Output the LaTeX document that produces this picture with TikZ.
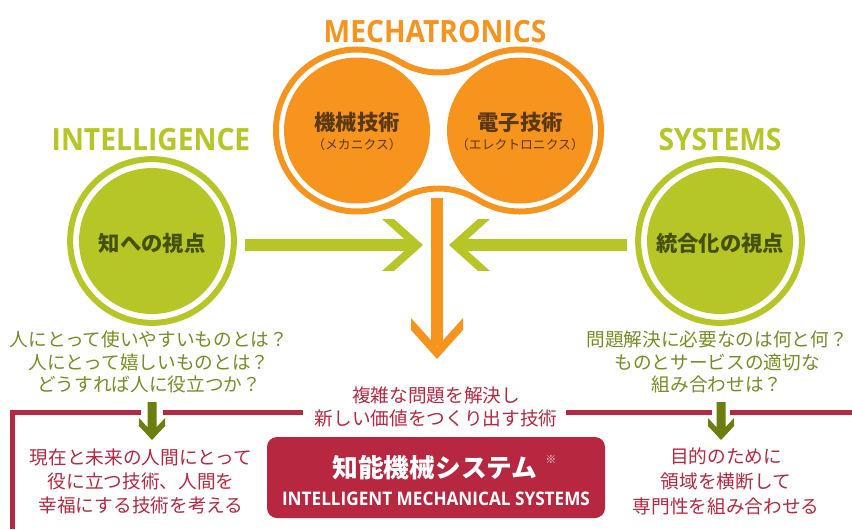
\documentclass[tikz,border=0pt]{standalone}
\usepackage{fontspec}
\usepackage{graphicx}
\setmainfont{Open Sans}
\newfontfamily\jp{Noto Sans CJK JP}
\definecolor{orangeM}{HTML}{F7941E}
\definecolor{greenM}{HTML}{B6C626}
\definecolor{greenT}{HTML}{7A8B22}
\definecolor{greenD}{HTML}{6C7E12}
\definecolor{greenC}{HTML}{45510A}
\definecolor{brownC}{HTML}{5A3810}
\definecolor{redM}{HTML}{B7273F}
\begin{document}
\begin{tikzpicture}[x=0.75pt,y=-0.75pt,
  heading/.style={font=\bfseries\fontsize{23pt}{25pt}\selectfont, inner sep=0pt, anchor=base},
  jtext/.style={font=\jp\fontsize{14pt}{17pt}\selectfont, align=center, inner sep=0pt},
  clabel/.style={font=\jp\bfseries\fontsize{16pt}{18pt}\selectfont, inner sep=0pt},
  csub/.style={font=\jp\fontsize{9.6pt}{11pt}\selectfont, inner sep=0pt, text=brownC},
  gcirc/.style={circle, fill=greenM, minimum size=109.5pt, inner sep=0pt},
  ocirc/.style={circle, fill=orangeM, minimum size=109.5pt, inner sep=0pt},
  ring/.style={line width=4.5pt},
  redline/.style={draw=redM, line width=3.75pt}
]
\useasboundingbox (0,0) rectangle (852,529);

% ---------- MECHATRONICS peanut ----------
\node[heading, text=orangeM] (mechT) at (435,42) {\scalebox{0.92}[1]{MECHATRONICS}};
\draw[orangeM, ring] (399.32,61.44)
  arc[start angle=58.5, end angle=301.5, radius=60.75pt]
  arc[start angle=121.5, end angle=58.5, radius=56.25pt]
  arc[start angle=-121.5, end angle=121.5, radius=60.75pt]
  arc[start angle=-58.5, end angle=-121.5, radius=56.25pt] -- cycle;
\node[ocirc] (mech) at (357,130.5) {};
\node[ocirc] (elec) at (520,130.5) {};
\node[clabel, text=brownC] (mechL) at (357,122) {機械技術};
\node[csub] (mechS) at (357,145) {（メカニクス）};
\node[clabel, text=brownC] (elecL) at (520,122) {電子技術};
\node[csub] (elecS) at (520,145) {（エレクトロニクス）};

% ---------- INTELLIGENCE ----------
\node[heading, text=greenM] (intT) at (151,150) {\scalebox{0.92}[1]{INTELLIGENCE}};
\node[gcirc] (intel) at (152,241) {};
\draw[greenM, ring] (intel.center) circle[radius=61.4pt];
\node[clabel, text=greenC] (intelL) at (152,243) {知への視点};

% ---------- SYSTEMS ----------
\node[heading, text=greenM] (sysT) at (720,150) {\scalebox{0.92}[1]{SYSTEMS}};
\node[gcirc] (sys) at (720,241) {};
\draw[greenM, ring] (sys.center) circle[radius=61.4pt];
\node[clabel, text=greenC] (sysL) at (720,243) {統合化の視点};

% ---------- converging arrows ----------
\fill[greenM] (245,239) rectangle (412,251);
\fill[greenM] (382,219) -- (394,219) -- (423,245) -- (394,271) -- (382,271) -- (411,245) -- cycle;
\fill[greenM] (461,239) rectangle (627,251);
\fill[greenM] (490,219) -- (478,219) -- (449,245) -- (478,271) -- (490,271) -- (461,245) -- cycle;
\fill[orangeM] (431,198) rectangle (443,346);
\fill[orangeM] (411,318) -- (437,347) -- (463,318) -- (463,330) -- (437,359) -- (411,330) -- cycle;

% ---------- question texts ----------
\node[jtext, text=greenT, font=\jp\fontsize{14pt}{16.9pt}\selectfont] (qL) at (149,362)
  {人にとって使いやすいものとは？\\人にとって嬉しいものとは？\\どうすれば人に役立つか？};
\node[jtext, text=greenT, font=\jp\fontsize{14pt}{16.9pt}\selectfont] (qR) at (717,362)
  {問題解決に必要なのは何と何？\\ものとサービスの適切な\\組み合わせは？};

% ---------- red frame line ----------
\draw[redline] (12,529) -- (12,412.5) -- (141,412.5);
\draw[redline] (163,412.5) -- (303,412.5);
\draw[redline] (566,412.5) -- (712,412.5);
\draw[redline] (730,412.5) -- (852,412.5);

% ---------- down arrows ----------
\fill[greenD] (147.5,402) -- (156.5,402) -- (156.5,427.2) -- (165,418) -- (165,426) -- (152,440)
  -- (139,426) -- (139,418) -- (147.5,427.2) -- cycle;
\fill[greenD] (716.5,402) -- (725.5,402) -- (725.5,427.2) -- (734,418) -- (734,426) -- (721,440)
  -- (708,426) -- (708,418) -- (716.5,427.2) -- cycle;

% ---------- middle text ----------
\node[jtext, text=redM, font=\jp\fontsize{14pt}{17.25pt}\selectfont] (mid) at (436,406.5)
  {複雑な問題を解決し\\新しい価値をつくり出す技術};

% ---------- result texts ----------
\node[jtext, text=redM, font=\jp\fontsize{14pt}{18pt}\selectfont] (rL) at (141,481)
  {現在と未来の人間にとって\\役に立つ技術、人間を\\幸福にする技術を考える};
\node[jtext, text=redM, font=\jp\fontsize{14pt}{18.75pt}\selectfont] (rR) at (726,481)
  {目的のために\\領域を横断して\\専門性を組み合わせる};

% ---------- central box ----------
\node[fill=redM, rounded corners=7.5pt, minimum width=253.5pt, minimum height=60.75pt, inner sep=0pt] (ims) at (436,477.5) {};
\node[font=\jp\bfseries\fontsize{19.3pt}{21pt}\selectfont, text=white, inner sep=0pt] (imsJ) at (435,468) {知能機械システム};
\node[font=\jp\fontsize{8pt}{9pt}\selectfont, text=white!85!gray, inner sep=0pt] (imsN) at (551,460) {※};
\node[font=\bfseries\fontsize{14pt}{16pt}\selectfont, text=white, inner sep=0pt, anchor=base] (imsE) at (436,505)
  {\scalebox{0.92}[1]{INTELLIGENT MECHANICAL SYSTEMS}};
\end{tikzpicture}
\end{document}
